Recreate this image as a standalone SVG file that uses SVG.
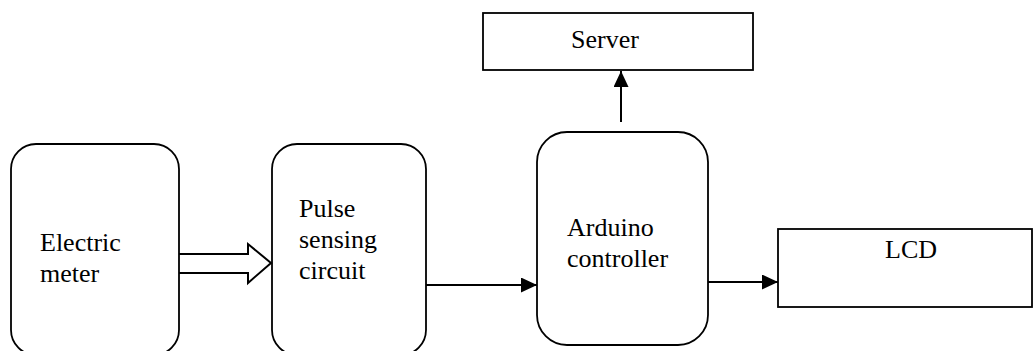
<svg xmlns="http://www.w3.org/2000/svg" width="1036" height="351" viewBox="0 0 1036 351">
<style>
.box{fill:#fff;stroke:#000;stroke-width:1.8}
.lbl{font-family:"Liberation Serif","Times New Roman",serif;font-size:26px;fill:#000}
.conn{stroke:#000;stroke-width:2;fill:none}
</style>
<defs>
<marker id="ah" markerWidth="16" markerHeight="15" refX="16" refY="7.5" orient="auto" markerUnits="userSpaceOnUse">
<path d="M0,0 L16,7.5 L0,15 Z" fill="#000"/>
</marker>
</defs>
<rect width="1036" height="351" fill="#fff"/>
<g id="electric-meter">
<rect class="box" x="11" y="144" width="168" height="211" rx="25"/>
<text class="lbl" x="40" y="251">Electric</text>
<text class="lbl" x="40" y="282">meter</text>
</g>
<g id="pulse-sensing">
<rect class="box" x="272" y="144" width="154" height="211" rx="25"/>
<text class="lbl" x="299" y="217">Pulse</text>
<text class="lbl" x="299" y="248">sensing</text>
<text class="lbl" x="299" y="279">circuit</text>
</g>
<g id="arduino">
<rect class="box" x="537" y="132" width="171" height="213" rx="30"/>
<text class="lbl" x="567" y="236">Arduino</text>
<text class="lbl" x="567" y="267">controller</text>
</g>
<g id="server">
<rect class="box" x="483" y="13" width="270" height="57"/>
<text class="lbl" x="571" y="48">Server</text>
</g>
<g id="lcd">
<rect class="box" x="778" y="229" width="254" height="78"/>
<text class="lbl" x="885" y="258">LCD</text>
</g>
<g id="connectors">
<path class="conn" d="M179,254 H248 V244 L271,263 L248,283 V273 H179" fill="#fff"/>
<line class="conn" x1="426" y1="285" x2="537" y2="285" marker-end="url(#ah)"/>
<line class="conn" x1="621" y1="122" x2="621" y2="71" marker-end="url(#ah)"/>
<line class="conn" x1="708" y1="282" x2="778" y2="282" marker-end="url(#ah)"/>
</g>
</svg>
